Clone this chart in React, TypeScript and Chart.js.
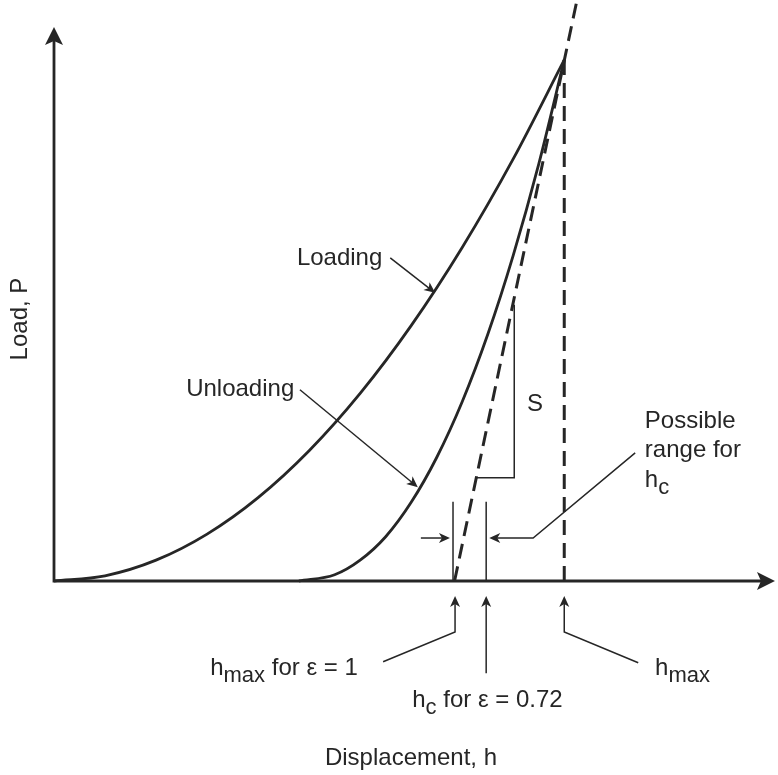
import React, { useEffect, useRef } from "react";
import { Chart, registerables } from "chart.js";

Chart.register(...registerables);

// Displacement h (hmax = 100) and load P (Pmax = 100)
const loadingH = [0, 10, 20, 30, 40, 50, 60, 70, 80, 90, 100];
const loadingP = [0, 1, 4, 9, 16, 25, 36, 49, 64, 81, 100];

const unloadingH = [48, 55, 60, 65, 70, 75, 80, 85, 90, 95, 100];
const unloadingP = [0, 1.2, 4.0, 8.5, 15.1, 23.7, 34.4, 47.3, 62.5, 80.0, 100];

const tangentH = [78.5, 102.5];
const tangentP = [0, 111.5];

const hmaxLineH = [100, 100];
const hmaxLineP = [0, 100];

const hmaxEps1H = [78.2, 78.2];
const hcEps072H = [84.7, 84.7];
const rangeLineP = [0, 15.2];

const slopeH = [82.9, 90.2, 90.2];
const slopeP = [19.8, 19.8, 53.0];

// axis extents (data units)
const X_MAX = 141.5;
const Y_MAX = 111.5;
const X_AXIS_END = 141.3;
const Y_AXIS_END = 106.3;

// annotation arrows (data units), last point is the arrow tip
const arrowPaths: number[][][] = [
  [[65.9, 62.0], [74.7, 55.3]],
  [[48.2, 36.7], [71.3, 18.0]],
  [[71.9, 8.25], [77.6, 8.25]],
  [[113.9, 24.6], [93.9, 8.25], [85.3, 8.25]],
  [[64.5, -15.5], [78.6, -9.8], [78.6, -2.9]],
  [[84.7, -17.7], [84.7, -2.9]],
  [[114.5, -15.7], [100, -9.8], [100, -2.9]],
];

type Piece = { t: string; sub?: boolean };
const labels: { h: number; p: number; parts: Piece[] }[] = [
  { h: 47.6, p: 60.7, parts: [{ t: "Loading" }] },
  { h: 25.9, p: 35.5, parts: [{ t: "Unloading" }] },
  { h: 92.7, p: 32.6, parts: [{ t: "S" }] },
  { h: 115.8, p: 29.4, parts: [{ t: "Possible" }] },
  { h: 115.8, p: 23.8, parts: [{ t: "range for" }] },
  { h: 115.8, p: 18.0, parts: [{ t: "h" }, { t: "c", sub: true }] },
  { h: 30.6, p: -18.0, parts: [{ t: "h" }, { t: "max", sub: true }, { t: " for ε = 1" }] },
  { h: 70.2, p: -24.2, parts: [{ t: "h" }, { t: "c", sub: true }, { t: " for ε = 0.72" }] },
  { h: 117.8, p: -18.0, parts: [{ t: "h" }, { t: "max", sub: true }] },
  { h: 53.1, p: -35.3, parts: [{ t: "Displacement, h" }] },
];
const yTitle = "Load, P";

const INK = "#262626";
const FONT = "'Liberation Sans', Arial, Helvetica, sans-serif";

const pts = (xs: number[], ys: number[]) => xs.map((x, i) => ({ x, y: ys[i] }));

function arrowHead(
  ctx: CanvasRenderingContext2D,
  tx: number, ty: number, fx: number, fy: number,
  len: number, hw: number, notch: number
) {
  const a = Math.atan2(ty - fy, tx - fx);
  const c = Math.cos(a), s = Math.sin(a);
  const bx = tx - len * c, by = ty - len * s;
  ctx.beginPath();
  ctx.moveTo(tx, ty);
  ctx.lineTo(bx - hw * s, by + hw * c);
  ctx.lineTo(tx - (len - notch) * c, ty - (len - notch) * s);
  ctx.lineTo(bx + hw * s, by - hw * c);
  ctx.closePath();
  ctx.fill();
}

const annotate = {
  id: "annotate",
  afterDraw(chart: any) {
    const { ctx, scales } = chart;
    const X = (v: number) => scales.x.getPixelForValue(v);
    const Y = (v: number) => scales.y.getPixelForValue(v);
    ctx.save();
    ctx.strokeStyle = INK;
    ctx.fillStyle = INK;
    ctx.lineCap = "butt";

    // axes
    const ox = X(0), oy = Y(0);
    const xe = X(X_AXIS_END), ye = Y(Y_AXIS_END);
    ctx.lineWidth = 2.8;
    ctx.beginPath();
    ctx.moveTo(ox, oy);
    ctx.lineTo(xe - 12, oy);
    ctx.moveTo(ox, oy + 1.4);
    ctx.lineTo(ox, ye + 12);
    ctx.stroke();
    arrowHead(ctx, xe, oy, ox, oy, 18, 9, 4);
    arrowHead(ctx, ox, ye, ox, oy, 18, 9, 4);

    // annotation arrows
    ctx.lineWidth = 1.5;
    for (const path of arrowPaths) {
      const p = path.map(([h, v]) => [X(h), Y(v)]);
      const n = p.length;
      const [tx, ty] = p[n - 1];
      const [fx, fy] = p[n - 2];
      const a = Math.atan2(ty - fy, tx - fx);
      ctx.beginPath();
      ctx.moveTo(p[0][0], p[0][1]);
      for (let i = 1; i < n - 1; i++) ctx.lineTo(p[i][0], p[i][1]);
      ctx.lineTo(tx - 7 * Math.cos(a), ty - 7 * Math.sin(a));
      ctx.stroke();
      arrowHead(ctx, tx, ty, fx, fy, 11, 5, 3);
    }

    // labels
    ctx.textBaseline = "alphabetic";
    ctx.textAlign = "left";
    for (const lab of labels) {
      let cx = X(lab.h);
      const by = Y(lab.p);
      for (const piece of lab.parts) {
        ctx.font = piece.sub ? `22px ${FONT}` : `24px ${FONT}`;
        ctx.fillText(piece.t, cx, piece.sub ? by + 7 : by);
        cx += ctx.measureText(piece.t).width;
      }
    }

    // y title
    ctx.save();
    ctx.translate(27, (Y(0) + Y(Y_AXIS_END)) / 2 + 15);
    ctx.rotate(-Math.PI / 2);
    ctx.textAlign = "center";
    ctx.font = `24px ${FONT}`;
    ctx.fillText(yTitle, 0, 0);
    ctx.restore();

    ctx.restore();
  },
};

export default function App() {
  const ref = useRef<HTMLCanvasElement | null>(null);

  useEffect(() => {
    document.body.style.margin = "0";
    const canvas = ref.current;
    if (!canvas) return;
    const solid = { borderColor: INK, pointRadius: 0, showLine: true, fill: false, clip: false as any };
    const chart = new Chart(canvas, {
      type: "scatter",
      data: {
        datasets: [
          { ...solid, label: "Loading", data: pts(loadingH, loadingP), borderWidth: 2.8, cubicInterpolationMode: "monotone" },
          { ...solid, label: "Unloading", data: pts(unloadingH, unloadingP), borderWidth: 2.8, cubicInterpolationMode: "monotone" },
          { ...solid, label: "Tangent", data: pts(tangentH, tangentP), borderWidth: 3, borderDash: [15, 8] },
          { ...solid, label: "hmax", data: pts(hmaxLineH, hmaxLineP), borderWidth: 3, borderDash: [15, 8] },
          { ...solid, label: "hmax eps1", data: pts(hmaxEps1H, rangeLineP), borderWidth: 1.5 },
          { ...solid, label: "hc eps072", data: pts(hcEps072H, rangeLineP), borderWidth: 1.5 },
          { ...solid, label: "S", data: pts(slopeH, slopeP), borderWidth: 1.5 },
        ] as any,
      },
      options: {
        responsive: false,
        animation: false,
        events: [],
        layout: { padding: { left: 54, right: 2, top: 0, bottom: 194 } },
        scales: {
          x: { type: "linear", min: 0, max: X_MAX, display: false },
          y: { type: "linear", min: 0, max: Y_MAX, display: false },
        },
        plugins: { legend: { display: false }, tooltip: { enabled: false } },
      },
      plugins: [annotate],
    });
    return () => chart.destroy();
  }, []);

  return (
    <div style={{ position: "absolute", left: 0, top: 0, width: 778, height: 775, background: "#fff" }}>
      <canvas ref={ref} width={778} height={775} style={{ display: "block" }} />
    </div>
  );
}
